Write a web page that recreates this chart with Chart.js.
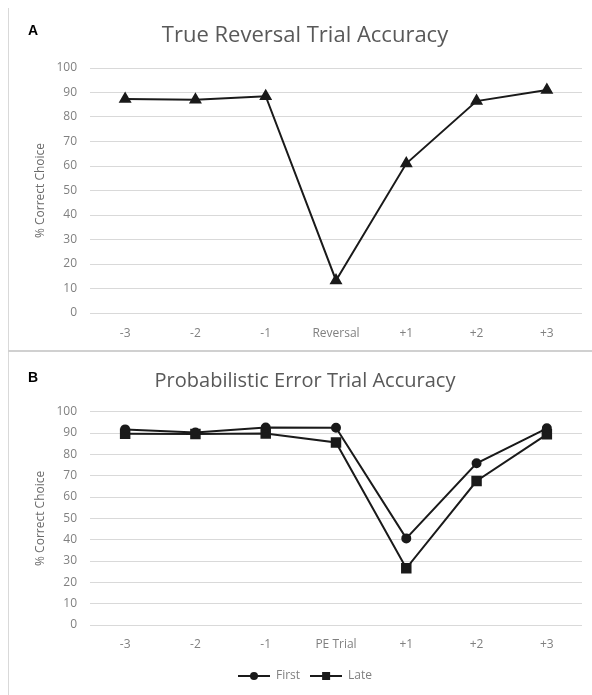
<!DOCTYPE html>
<html>
<head>
<meta charset="utf-8">
<script src="https://cdn.jsdelivr.net/npm/chart.js@4/dist/chart.umd.min.js"></script>
<style>
  body { margin: 0; background: #fff; width: 592px; height: 695px; overflow: hidden; position: relative; font-family: "Open Sans", sans-serif; }
  .panel { position: absolute; left: 0; }
  .tag { position: absolute; left: 28px; font: bold 14px "Liberation Sans", Arial, sans-serif; color: #000; }
  .vline { position: absolute; left: 8px; top: 8px; width: 1px; height: 687px; background: #d9d9d9; }
  .hline { position: absolute; left: 8px; top: 350px; width: 584px; height: 2px; background: #d0d0d0; }
</style>
</head>
<body>
<div class="vline"></div>
<div class="hline"></div>
<div class="panel" style="top:0px"><canvas id="chartA" width="592" height="350"></canvas></div>
<div class="panel" style="top:352px"><canvas id="chartB" width="592" height="343"></canvas></div>
<div class="tag" style="top:22px">A</div>
<div class="tag" style="top:369px">B</div>
<script>
// MARK: - Data
const yTicks = [0, 10, 20, 30, 40, 50, 60, 70, 80, 90, 100];

const categoriesA = ['-3', '-2', '-1', 'Reversal', '+1', '+2', '+3'];
const reversalAcc = [87.3, 87.0, 88.5, 13.3, 61.0, 86.5, 91.0];

const categoriesB = ['-3', '-2', '-1', 'PE Trial', '+1', '+2', '+3'];
const firstAcc = [91.7, 90.2, 92.6, 92.5, 40.6, 75.8, 92.2];
const lateAcc = [89.7, 89.5, 89.8, 85.6, 26.6, 67.5, 89.4];

const lineColor = '#1a1a1a';
const gridColor = '#d9d9d9';
const tickColor = '#808080';

// little pictures for the legend: line with marker in the middle
function legendIcon(kind) {
  const c = document.createElement('canvas');
  c.width = 32;
  c.height = 10;
  const ctx = c.getContext('2d');
  ctx.strokeStyle = lineColor;
  ctx.fillStyle = lineColor;
  ctx.lineWidth = 2;
  ctx.beginPath();
  ctx.moveTo(0, 5);
  ctx.lineTo(32, 5);
  ctx.stroke();
  if (kind === 'circle') {
    ctx.beginPath();
    ctx.arc(16, 5, 4, 0, Math.PI * 2);
    ctx.fill();
  } else {
    ctx.fillRect(12, 1, 8, 8);
  }
  return c;
}

function yScale(padTop) {
  return {
    min: 0,
    max: 100,
    afterBuildTicks: function(scale) {
      scale.ticks = yTicks.map(function(v) { return { value: v }; });
    },
    afterFit: function(scale) { scale.width = 62; },
    border: { display: false },
    grid: { color: gridColor, lineWidth: 1, drawTicks: false },
    ticks: { color: tickColor, padding: 13, font: { family: 'Open Sans', size: 12 } },
    title: {
      display: true,
      text: '% Correct Choice',
      color: '#6a6a6a',
      padding: { top: padTop, bottom: 0 },
      font: { family: 'Open Sans', size: 12 }
    }
  };
}

function xScale(height, pad) {
  return {
    offset: true,
    afterFit: function(scale) { scale.height = height; },
    border: { display: false },
    grid: { display: false },
    ticks: { color: tickColor, padding: pad, maxRotation: 0, autoSkip: false, font: { family: 'Open Sans', size: 12 } }
  };
}

function titleOpts(text, size, bottom) {
  return {
    display: true,
    text: text,
    color: '#595959',
    padding: { top: 0, bottom: bottom },
    font: { family: 'Open Sans', size: size, weight: 'normal' }
  };
}

// MARK: - Chart A
new Chart(document.getElementById('chartA').getContext('2d'), {
  type: 'line',
  data: {
    labels: categoriesA,
    datasets: [{
      label: 'Accuracy',
      data: reversalAcc,
      borderColor: lineColor,
      backgroundColor: lineColor,
      borderWidth: 2,
      pointStyle: 'triangle',
      pointRadius: 5.5,
      tension: 0
    }]
  },
  options: {
    responsive: false,
    animation: false,
    layout: { padding: { left: 28, right: 10, top: 23, bottom: 0 } },
    plugins: {
      legend: { display: false },
      tooltip: { enabled: false },
      title: titleOpts('True Reversal Trial Accuracy', 22, 18.6)
    },
    scales: {
      x: xScale(37, 5),
      y: yScale(5)
    }
  }
});

// MARK: - Chart B
new Chart(document.getElementById('chartB').getContext('2d'), {
  type: 'line',
  data: {
    labels: categoriesB,
    datasets: [{
      label: 'First',
      data: firstAcc,
      borderColor: lineColor,
      backgroundColor: lineColor,
      borderWidth: 2,
      pointStyle: 'circle',
      pointRadius: 4,
      tension: 0
    }, {
      label: 'Late',
      data: lateAcc,
      borderColor: lineColor,
      backgroundColor: lineColor,
      borderWidth: 2,
      pointStyle: 'rect',
      pointRadius: 6,
      tension: 0
    }]
  },
  options: {
    responsive: false,
    animation: false,
    layout: { padding: { left: 28, right: 10, top: 17, bottom: 3 } },
    plugins: {
      tooltip: { enabled: false },
      title: titleOpts('Probabilistic Error Trial Accuracy', 20, 18.7),
      legend: {
        position: 'bottom',
        labels: {
          usePointStyle: true,
          pointStyleWidth: 32,
          padding: 10,
          color: tickColor,
          font: { family: 'Open Sans', size: 12 },
          generateLabels: function(chart) {
            return chart.data.datasets.map(function(ds, i) {
              return {
                text: ds.label,
                pointStyle: legendIcon(i === 0 ? 'circle' : 'rect'),
                fontColor: tickColor,
                lineWidth: 0,
                datasetIndex: i
              };
            });
          }
        }
      }
    },
    scales: {
      x: xScale(35, 4),
      y: yScale(5)
    }
  }
});
</script>
</body>
</html>
